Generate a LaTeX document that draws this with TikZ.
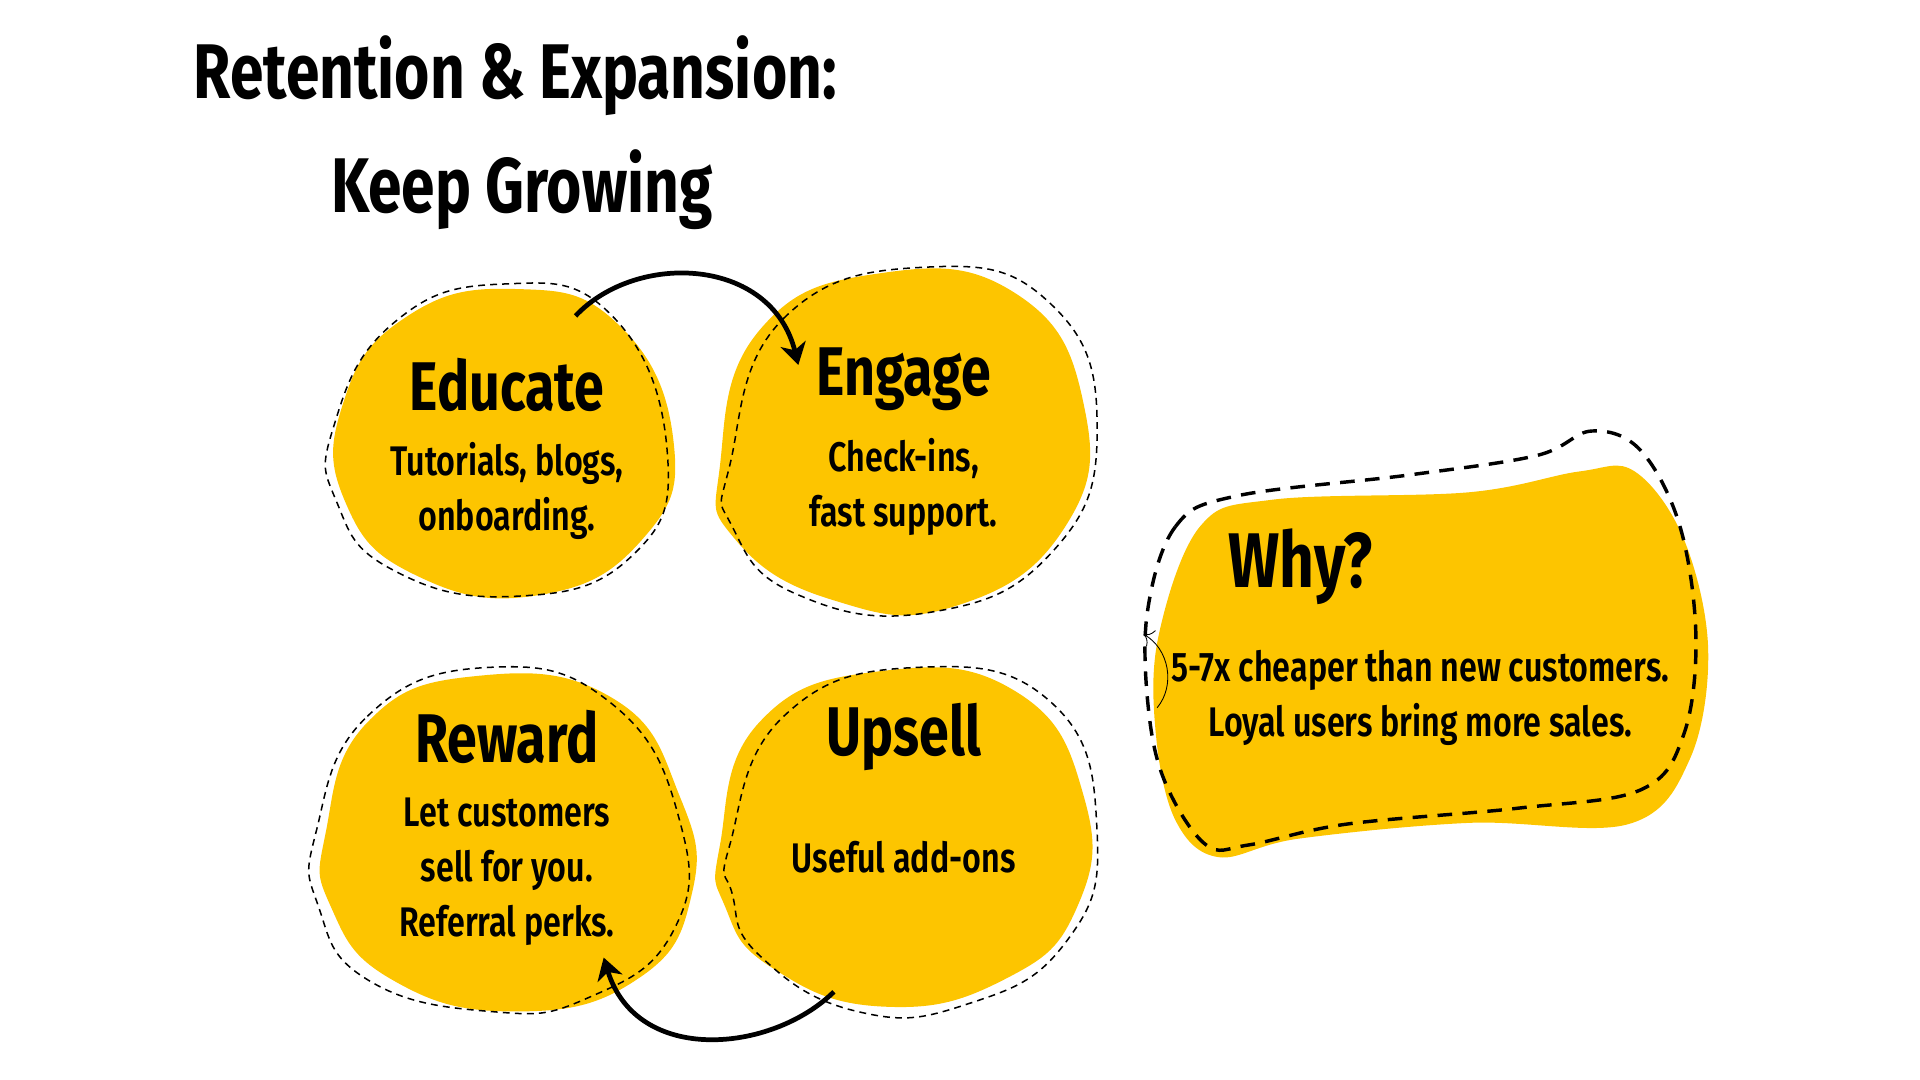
\documentclass[tikz,border=0pt]{standalone}
\usepackage{fontspec}
\setmainfont{Fira Sans}[FakeStretch=0.78,UprightFont=* SemiBold,BoldFont=* Bold]
\usetikzlibrary{arrows.meta}
\definecolor{gold}{HTML}{FDC500}
\tikzset{x=0.01cm,y=-0.01cm,
 blob/.style={fill=gold,draw=none},
 thindash/.style={draw=black,dash pattern=on 1.6pt off 1.2pt,line width=0.35pt},
 bigdash/.style={draw=black,dash pattern=on 3.4pt off 2.4pt,line width=0.8pt},
 ttl/.style={font=\bfseries\fontsize{16}{18}\selectfont},
 body/.style={font=\fontsize{9.6}{12.8}\selectfont,align=center},
 flow/.style={-{Stealth[length=5pt,width=6pt,inset=1.5pt]},line width=1.1pt}}
\begin{document}
\begin{tikzpicture}
\useasboundingbox (0,0) rectangle (1568,882);
% title
\node[anchor=west,font=\bfseries\fontsize{18}{21}\selectfont] (t1) at (146,62) {Retention \& Expansion:};
\node[anchor=west,font=\bfseries\fontsize{18}{21}\selectfont] (t2) at (258,155) {Keep Growing};
% Educate
\fill[gold] plot[smooth cycle,tension=0.8] coordinates {(280,330)(330,260)(420,236)(505,265)(550,360)(525,440)(440,486)(340,470)(282,410)};
\draw[thindash] plot[smooth cycle,tension=0.8] coordinates {(272,350)(320,265)(410,232)(500,258)(545,370)(515,455)(420,487)(320,465)(275,410)};
% Engage
\fill[gold] plot[smooth cycle,tension=0.8] coordinates {(588,380)(620,270)(720,223)(830,240)(885,330)(870,430)(780,495)(680,490)(600,440)};
\draw[thindash] plot[smooth cycle,tension=0.8] coordinates {(596,380)(640,260)(760,218)(860,250)(896,350)(860,450)(760,500)(650,485)(598,430)};
% Reward
\fill[gold] plot[smooth cycle,tension=0.8] coordinates {(266,680)(300,590)(390,552)(500,570)(555,650)(565,730)(520,800)(420,826)(320,800)(270,740)};
\draw[thindash] plot[smooth cycle,tension=0.8] coordinates {(258,680)(300,585)(400,545)(500,575)(555,670)(550,760)(480,815)(400,826)(300,800)(260,740)};
% Upsell
\fill[gold] plot[smooth cycle,tension=0.8] coordinates {(588,690)(620,590)(720,548)(830,565)(885,650)(880,740)(820,800)(720,822)(630,790)(592,740)};
\draw[thindash] plot[smooth cycle,tension=0.8] coordinates {(596,690)(640,585)(750,545)(860,575)(896,680)(870,770)(790,820)(700,826)(620,780)(598,730)};
% Why
\fill[gold] plot[smooth cycle,tension=0.6] coordinates {(946,520)(980,430)(1040,408)(1200,402)(1290,385)(1335,385)(1375,440)(1395,530)(1380,620)(1330,673)(1200,672)(1060,685)(995,700)(960,670)(944,600)};
\draw[bigdash] plot[smooth cycle,tension=0.6] coordinates {(937,500)(960,430)(1010,405)(1150,388)(1255,372)(1300,352)(1340,368)(1372,430)(1385,520)(1375,600)(1340,645)(1240,660)(1100,673)(1020,690)(985,690)(952,640)(938,580)};
\draw[->,line width=0.2pt] (945,578) to[bend right=50] (934,518);
% nodes
\node[ttl] (edu) at (414,314) {Educate};
\node[body] (edub) at (414,401) {Tutorials, blogs,\\onboarding.};
\node[ttl] (eng) at (738,310) {Engage};
\node[body] (engb) at (738,398) {Check-ins,\\fast support.};
\node[ttl] (rew) at (414,602) {Reward};
\node[body] (rewb) at (414,712) {Let customers\\sell for you.\\Referral perks.};
\node[ttl] (ups) at (738,602) {Upsell};
\node[body] (upsb) at (738,700) {Useful add-ons};
\node[font=\bfseries\fontsize{18}{21}\selectfont] (why) at (1062,463) {Why?};
\node[body] (whyb) at (1160,570) {5-7x cheaper than new customers.\\Loyal users bring more sales.};
% arrows
\coordinate (a1) at (470,258); \coordinate (a2) at (652,298);
\coordinate (b1) at (681,810); \coordinate (b2) at (493,782);
\draw[flow] (a1) .. controls (520,205) and (630,210) .. (a2);
\draw[flow] (b1) .. controls (630,860) and (520,870) .. (b2);
\end{tikzpicture}
\end{document}
